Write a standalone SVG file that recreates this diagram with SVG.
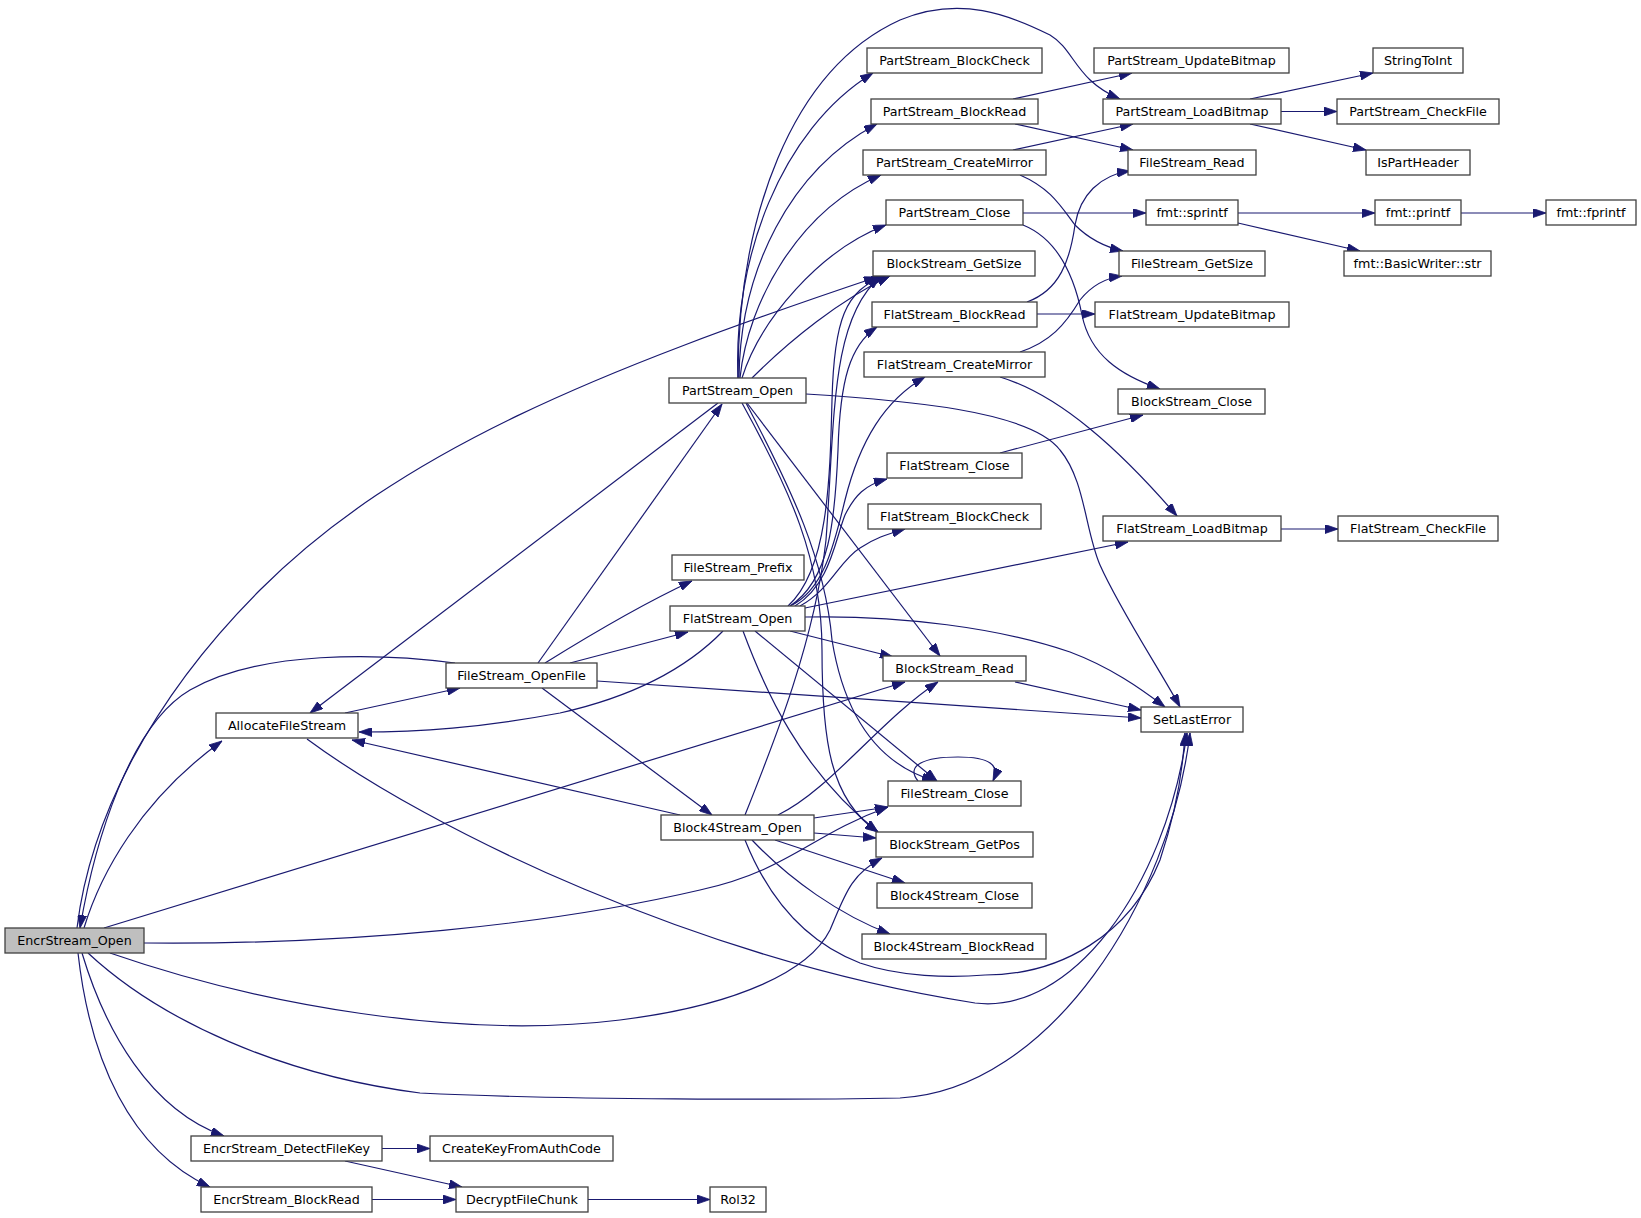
<svg xmlns="http://www.w3.org/2000/svg" width="1641" height="1218" viewBox="0 0 1641 1218">
<style>
.n rect{fill:#ffffff;stroke:#404040;stroke-width:1.3}
.n.root rect{fill:#bfbfbf}
.n text{font-family:"DejaVu Sans",Verdana,sans-serif;font-size:12.7px;fill:#000;text-anchor:middle}
.e path{fill:none;stroke:#191970;stroke-width:1.2;marker-end:url(#ah)}
</style>
<defs>
<marker id="ah" viewBox="0 0 13 9" refX="13" refY="4.5" markerWidth="13" markerHeight="9" markerUnits="userSpaceOnUse" orient="auto">
<path d="M0,0 L13,4.5 L0,9 z" fill="#191970" stroke="#191970" stroke-width="0.8"/>
</marker>
</defs>
<rect width="1641" height="1218" fill="#ffffff"/>
<g id="connectors" class="e">
<path d="M455,663 C380,653 260,650 190,690 C130,725 95,840 80,928"/>
<path d="M84,928 C100,875 140,800 222,741"/>
<path d="M77,928 C90,820 150,700 260,590 C400,450 600,370 877,277"/>
<path d="M104,928 L905,682"/>
<path d="M144,943 C350,945 550,925 700,890 C790,870 810,835 888,807"/>
<path d="M110,953 C260,1005 460,1040 620,1020 C740,1005 810,970 830,930 C845,895 850,875 882,858"/>
<path d="M88,953 C160,1020 280,1075 420,1093 C560,1100 800,1100 900,1098 C1050,1090 1170,900 1190,733"/>
<path d="M82,953 C105,1030 150,1110 224,1136"/>
<path d="M78,953 C90,1060 130,1150 210,1187"/>
<path d="M738,378 C733,260 780,130 873,73"/>
<path d="M739,378 C740,270 790,170 877,124"/>
<path d="M740,378 C748,300 800,210 881,175"/>
<path d="M742,378 C760,320 820,250 886,225"/>
<path d="M752,378 C790,340 840,300 890,276"/>
<path d="M738,378 C738,220 790,70 900,20 C960,-5 1010,15 1050,35 C1075,50 1075,80 1120,99"/>
<path d="M718,403 L310,713"/>
<path d="M806,394 C900,400 1030,410 1060,450 C1085,480 1085,530 1100,565 C1120,610 1160,670 1180,707"/>
<path d="M747,403 L940,656"/>
<path d="M746,403 C792,490 825,560 832,640 C845,720 880,765 935,781"/>
<path d="M742,403 C790,490 822,560 822,650 C822,740 830,800 878,832"/>
<path d="M790,606 C830,580 835,520 838,450 C840,380 850,345 877,327"/>
<path d="M788,606 C828,570 830,480 832,400 C834,320 845,290 885,276"/>
<path d="M790,606 C825,590 835,540 845,500 C860,440 885,400 925,377"/>
<path d="M795,606 C830,585 835,540 845,515 C855,495 865,485 887,479"/>
<path d="M800,606 C830,590 840,560 860,548 C875,538 885,535 905,529"/>
<path d="M805,608 L1128,542"/>
<path d="M805,617 C900,615 1000,628 1070,652 C1110,667 1140,688 1165,707"/>
<path d="M790,631 L893,657"/>
<path d="M755,631 L937,781"/>
<path d="M743,631 C765,690 800,770 878,832"/>
<path d="M723,631 C690,665 640,695 560,713 C480,728 420,732 359,732"/>
<path d="M680,815 L352,740"/>
<path d="M745,815 C775,740 815,640 826,540 C835,420 830,320 880,277"/>
<path d="M778,815 C830,790 880,720 938,682"/>
<path d="M814,818 L888,807"/>
<path d="M814,833 L876,838"/>
<path d="M775,840 L905,883"/>
<path d="M752,840 C790,880 840,915 890,934"/>
<path d="M745,840 C765,890 800,940 860,963 C900,977 950,978 985,975 C1060,975 1130,935 1160,860 C1175,815 1183,770 1185,733"/>
<path d="M307,739 C430,830 700,960 975,1003 C1070,1015 1165,890 1187,733"/>
<path d="M538,663 L722,404"/>
<path d="M545,663 C590,635 640,605 692,581"/>
<path d="M570,663 L688,632"/>
<path d="M542,688 L712,815"/>
<path d="M597,681 C700,688 900,700 1141,718"/>
<path d="M345,713 L460,688"/>
<path d="M1013,99 L1132,73"/>
<path d="M1015,124 L1133,150"/>
<path d="M1013,150 L1133,124"/>
<path d="M1020,175 C1050,188 1060,205 1075,225 C1090,240 1105,247 1123,251"/>
<path d="M1023,213 L1146,213"/>
<path d="M1023,225 C1060,240 1075,280 1082,315 C1090,355 1120,375 1160,389"/>
<path d="M1037,314 L1095,314"/>
<path d="M1027,302 C1060,290 1070,260 1075,225 C1080,195 1100,175 1130,171"/>
<path d="M1020,352 C1050,342 1065,325 1080,300 C1092,285 1105,278 1122,276"/>
<path d="M1000,377 C1060,395 1120,450 1177,516"/>
<path d="M1000,453 L1143,415"/>
<path d="M1250,99 L1373,73"/>
<path d="M1281,111.5 L1337,111.5"/>
<path d="M1250,124 L1366,150"/>
<path d="M1238,213 L1375,213"/>
<path d="M1238,223 L1360,251"/>
<path d="M1461,213 L1546,213"/>
<path d="M1281,529 L1338,529"/>
<path d="M1015,682 L1141,710"/>
<path d="M918,781 C905,765 925,757 958,757 C990,757 1000,765 993,781"/>
<path d="M382,1148.5 L430,1148.5"/>
<path d="M345,1161 L462,1187"/>
<path d="M372,1199.5 L456,1199.5"/>
<path d="M588,1199.5 L710,1199.5"/>
</g>
<g id="node-EncrStream_Open" class="n root"><rect x="5" y="928" width="139" height="25"/><text x="74.5" y="945">EncrStream_Open</text></g>
<g id="node-PartStream_BlockCheck" class="n"><rect x="867" y="48" width="175" height="25"/><text x="954.5" y="65">PartStream_BlockCheck</text></g>
<g id="node-PartStream_BlockRead" class="n"><rect x="871" y="99" width="167" height="25"/><text x="954.5" y="116">PartStream_BlockRead</text></g>
<g id="node-PartStream_CreateMirror" class="n"><rect x="863" y="150" width="183" height="25"/><text x="954.5" y="167">PartStream_CreateMirror</text></g>
<g id="node-PartStream_Close" class="n"><rect x="886" y="200" width="137" height="25"/><text x="954.5" y="217">PartStream_Close</text></g>
<g id="node-BlockStream_GetSize" class="n"><rect x="873" y="251" width="162" height="25"/><text x="954" y="268">BlockStream_GetSize</text></g>
<g id="node-FlatStream_BlockRead" class="n"><rect x="872" y="302" width="165" height="25"/><text x="954.5" y="319">FlatStream_BlockRead</text></g>
<g id="node-FlatStream_CreateMirror" class="n"><rect x="864" y="352" width="181" height="25"/><text x="954.5" y="369">FlatStream_CreateMirror</text></g>
<g id="node-PartStream_Open" class="n"><rect x="669" y="378" width="137" height="25"/><text x="737.5" y="395">PartStream_Open</text></g>
<g id="node-FlatStream_Close" class="n"><rect x="887" y="453" width="135" height="25"/><text x="954.5" y="470">FlatStream_Close</text></g>
<g id="node-FlatStream_BlockCheck" class="n"><rect x="868" y="504" width="173" height="25"/><text x="954.5" y="521">FlatStream_BlockCheck</text></g>
<g id="node-FileStream_Prefix" class="n"><rect x="672" y="555" width="132" height="25"/><text x="738" y="572">FileStream_Prefix</text></g>
<g id="node-FlatStream_Open" class="n"><rect x="670" y="606" width="135" height="25"/><text x="737.5" y="623">FlatStream_Open</text></g>
<g id="node-BlockStream_Read" class="n"><rect x="883" y="656" width="143" height="25"/><text x="954.5" y="673">BlockStream_Read</text></g>
<g id="node-FileStream_OpenFile" class="n"><rect x="446" y="663" width="151" height="25"/><text x="521.5" y="680">FileStream_OpenFile</text></g>
<g id="node-AllocateFileStream" class="n"><rect x="216" y="713" width="142" height="25"/><text x="287" y="730">AllocateFileStream</text></g>
<g id="node-SetLastError" class="n"><rect x="1141" y="707" width="102" height="25"/><text x="1192" y="724">SetLastError</text></g>
<g id="node-FileStream_Close" class="n"><rect x="888" y="781" width="133" height="25"/><text x="954.5" y="798">FileStream_Close</text></g>
<g id="node-Block4Stream_Open" class="n"><rect x="661" y="815" width="153" height="25"/><text x="737.5" y="832">Block4Stream_Open</text></g>
<g id="node-BlockStream_GetPos" class="n"><rect x="876" y="832" width="157" height="25"/><text x="954.5" y="849">BlockStream_GetPos</text></g>
<g id="node-Block4Stream_Close" class="n"><rect x="877" y="883" width="155" height="25"/><text x="954.5" y="900">Block4Stream_Close</text></g>
<g id="node-Block4Stream_BlockRead" class="n"><rect x="862" y="934" width="184" height="25"/><text x="954" y="951">Block4Stream_BlockRead</text></g>
<g id="node-EncrStream_DetectFileKey" class="n"><rect x="191" y="1136" width="191" height="25"/><text x="286.5" y="1153">EncrStream_DetectFileKey</text></g>
<g id="node-CreateKeyFromAuthCode" class="n"><rect x="430" y="1136" width="183" height="25"/><text x="521.5" y="1153">CreateKeyFromAuthCode</text></g>
<g id="node-EncrStream_BlockRead" class="n"><rect x="201" y="1187" width="171" height="25"/><text x="286.5" y="1204">EncrStream_BlockRead</text></g>
<g id="node-DecryptFileChunk" class="n"><rect x="456" y="1187" width="132" height="25"/><text x="522" y="1204">DecryptFileChunk</text></g>
<g id="node-Rol32" class="n"><rect x="710" y="1187" width="56" height="25"/><text x="738" y="1204">Rol32</text></g>
<g id="node-PartStream_UpdateBitmap" class="n"><rect x="1094" y="48" width="195" height="25"/><text x="1191.5" y="65">PartStream_UpdateBitmap</text></g>
<g id="node-StringToInt" class="n"><rect x="1373" y="48" width="90" height="25"/><text x="1418" y="65">StringToInt</text></g>
<g id="node-PartStream_LoadBitmap" class="n"><rect x="1103" y="99" width="178" height="25"/><text x="1192" y="116">PartStream_LoadBitmap</text></g>
<g id="node-PartStream_CheckFile" class="n"><rect x="1337" y="99" width="162" height="25"/><text x="1418" y="116">PartStream_CheckFile</text></g>
<g id="node-FileStream_Read" class="n"><rect x="1128" y="150" width="128" height="25"/><text x="1192" y="167">FileStream_Read</text></g>
<g id="node-IsPartHeader" class="n"><rect x="1366" y="150" width="104" height="25"/><text x="1418" y="167">IsPartHeader</text></g>
<g id="node-fmt_sprintf" class="n"><rect x="1146" y="200" width="92" height="25"/><text x="1192" y="217">fmt::sprintf</text></g>
<g id="node-fmt_printf" class="n"><rect x="1375" y="200" width="86" height="25"/><text x="1418" y="217">fmt::printf</text></g>
<g id="node-fmt_fprintf" class="n"><rect x="1546" y="200" width="90" height="25"/><text x="1591" y="217">fmt::fprintf</text></g>
<g id="node-FileStream_GetSize" class="n"><rect x="1119" y="251" width="146" height="25"/><text x="1192" y="268">FileStream_GetSize</text></g>
<g id="node-fmt_BasicWriter_str" class="n"><rect x="1344" y="251" width="147" height="25"/><text x="1417.5" y="268">fmt::BasicWriter::str</text></g>
<g id="node-FlatStream_UpdateBitmap" class="n"><rect x="1095" y="302" width="194" height="25"/><text x="1192" y="319">FlatStream_UpdateBitmap</text></g>
<g id="node-BlockStream_Close" class="n"><rect x="1118" y="389" width="147" height="25"/><text x="1191.5" y="406">BlockStream_Close</text></g>
<g id="node-FlatStream_LoadBitmap" class="n"><rect x="1103" y="516" width="178" height="25"/><text x="1192" y="533">FlatStream_LoadBitmap</text></g>
<g id="node-FlatStream_CheckFile" class="n"><rect x="1338" y="516" width="160" height="25"/><text x="1418" y="533">FlatStream_CheckFile</text></g>
</svg>
